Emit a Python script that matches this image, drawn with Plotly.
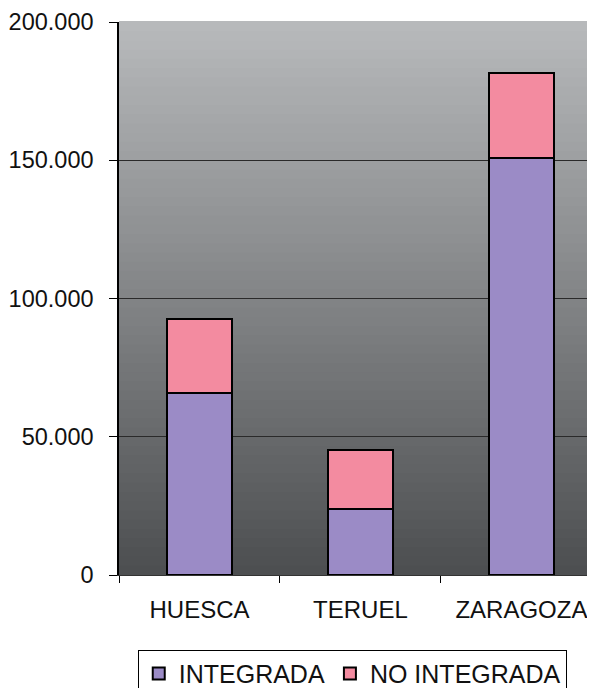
import plotly.graph_objects as go

categories = ["HUESCA", "TERUEL", "ZARAGOZA"]
integrada = [65800, 23900, 150800]
no_integrada = [26800, 21300, 30800]
y_ticks = [0, 50000, 100000, 150000, 200000]

fig = go.Figure()
fig.add_trace(go.Bar(name="INTEGRADA", x=categories, y=integrada,
                     marker=dict(color="#9b8bc6", line=dict(color="#000000", width=2)),
                     width=0.4))
fig.add_trace(go.Bar(name="NO INTEGRADA", x=categories, y=no_integrada,
                     marker=dict(color="#f38ba0", line=dict(color="#000000", width=2)),
                     width=0.4))

# vertical gray gradient background
n = 60
top = (0xb8, 0xba, 0xbc)
bot = (0x4c, 0x4e, 0x50)
shapes = []
for i in range(n):
    t = (i + 0.5) / n
    c = tuple(int(round(bot[k] + (top[k] - bot[k]) * t)) for k in range(3))
    shapes.append(dict(type="rect", xref="x domain", yref="y domain",
                       x0=0, x1=1, y0=i / n, y1=(i + 1) / n + 0.002,
                       fillcolor="rgb(%d,%d,%d)" % c, line=dict(width=0),
                       layer="below"))

fig.update_layout(
    width=587, height=680,
    barmode="stack",
    separators=",.",
    paper_bgcolor="white",
    plot_bgcolor="#888a8c",
    margin=dict(l=111, r=0, t=14, b=113, autoexpand=False),
    font=dict(family="Liberation Sans, Arial, sans-serif", size=24, color="#111111"),
    shapes=shapes,
    showlegend=True,
    legend=dict(orientation="h", x=0.49, xanchor="center", y=-0.135, yanchor="top",
                bordercolor="#000000", borderwidth=1, bgcolor="white",
                traceorder="normal", font=dict(size=25), itemwidth=30,
                tracegroupgap=0),
    xaxis=dict(range=[-0.5, 2.457], tickson="boundaries", ticks="outside",
               ticklen=7, tickcolor="#000", showline=True, linecolor="#333",
               linewidth=1, showgrid=False, ticklabelstandoff=13,
               tickfont=dict(size=24)),
    yaxis=dict(range=[0, 200000], tickvals=y_ticks, tickformat=",d",
               ticks="outside", ticklen=8, tickcolor="#000", showline=True,
               linecolor="#000", linewidth=1.5, showgrid=True,
               gridcolor="#2a2a2a", gridwidth=1, zeroline=False,
               ticklabelstandoff=11, tickfont=dict(size=23.5)),
)

fig.write_html("out.html")
